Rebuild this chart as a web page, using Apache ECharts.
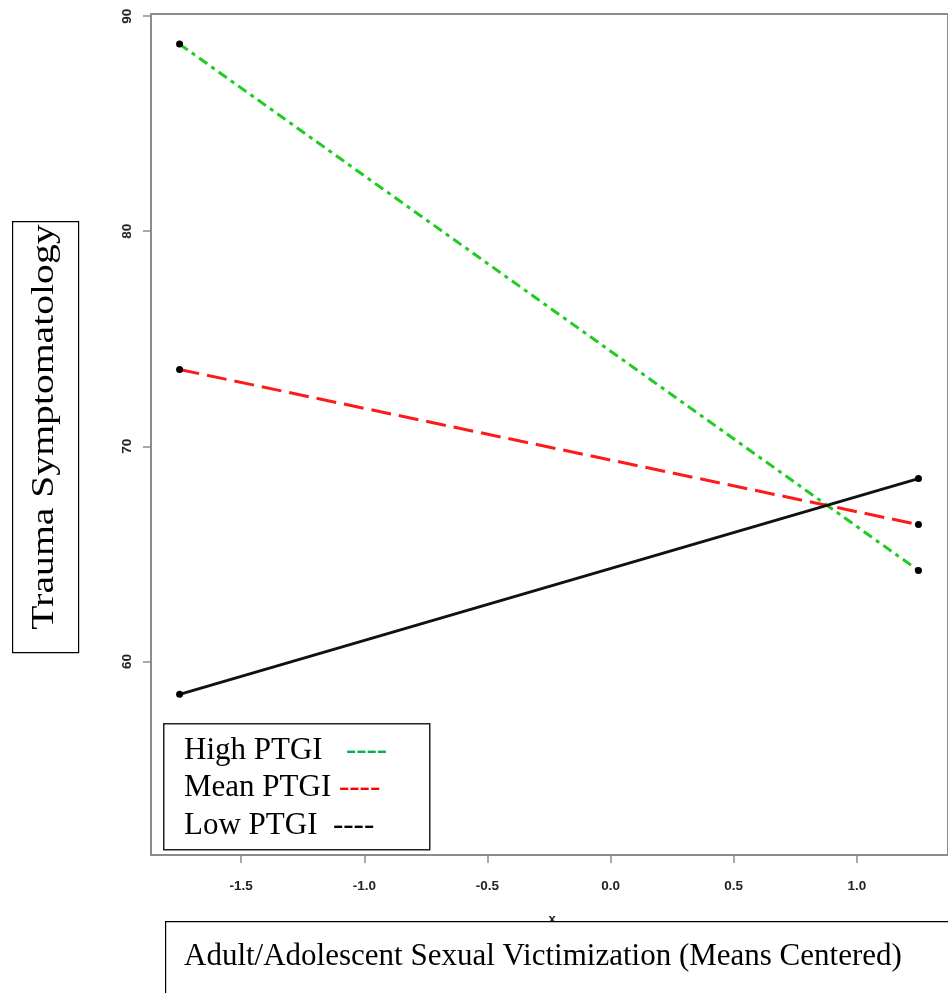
<!DOCTYPE html>
<html>
<head>
<meta charset="utf-8">
<script src="https://cdn.jsdelivr.net/npm/echarts@6/dist/echarts.min.js"></script>
<style>
html,body{margin:0;padding:0;background:#fff;}
#main{width:948px;height:993px;}
</style>
</head>
<body>
<div id="main"></div>
<script>
// ---- data ----
const xValues = [-1.75, 1.25];
const highPTGI = [88.7, 64.23];
const meanPTGI = [73.57, 66.36];
const lowPTGI = [58.47, 68.5];
const xTickValues = [-1.5, -1.0, -0.5, 0.0, 0.5, 1.0];
const xTickLabels = ['-1.5', '-1.0', '-0.5', '0.0', '0.5', '1.0'];
const yTickValues = [60, 70, 80, 90];
const yTickLabels = ['60', '70', '80', '90'];
const seriesNames = ['High PTGI', 'Mean PTGI', 'Low PTGI'];
const yAxisTitle = 'Trauma Symptomatology';
const xAxisTitle = 'Adult/Adolescent Sexual Victimization (Means Centered)';

function pairs(ys){ return xValues.map((x,i)=>[x, ys[i]]); }

const chart = echarts.init(document.getElementById('main'), null, {renderer:'canvas'});
const serif = '"Liberation Serif", "Times New Roman", serif';
const tickFont = {fontFamily:'"Liberation Sans", Arial, sans-serif', fontWeight:'bold', fontSize:13.5, color:'#222'};

function lineSeries(name, ys, color, type){
  return {
    name: name, type:'line', data: pairs(ys),
    symbol:'circle', symbolSize:7, showSymbol:true,
    itemStyle:{color:'#000'},
    lineStyle:{color:color, width:3, type:type},
    emphasis:{disabled:true}, animation:false, silent:true
  };
}

chart.setOption({
  animation:false,
  grid:{left:151, right:-12, top:14, bottom:138, show:true, borderColor:'#8c8c8c', borderWidth:2, backgroundColor:'transparent'},
  xAxis:{
    type:'value', min:-1.866, max:1.37,
    splitLine:{show:false},
    axisLine:{show:false, onZero:false},
    axisTick:{show:true, customValues:xTickValues, length:8, inside:false, lineStyle:{color:'#8c8c8c', width:1.5}},
    axisLabel:{show:true, customValues:xTickValues, margin:24,
      formatter:(v)=>{const i=xTickValues.findIndex(t=>Math.abs(t-v)<1e-9); return i>=0?xTickLabels[i]:'';},
      ...tickFont}
  },
  yAxis:{
    type:'value', min:51, max:90.1,
    splitLine:{show:false},
    axisLine:{show:false, onZero:false},
    axisTick:{show:true, customValues:yTickValues, length:8, inside:false, lineStyle:{color:'#8c8c8c', width:1.5}},
    axisLabel:{show:true, customValues:yTickValues, margin:17, rotate:90,
      formatter:(v)=>{const i=yTickValues.findIndex(t=>Math.abs(t-v)<1e-9); return i>=0?yTickLabels[i]:'';},
      ...tickFont}
  },
  series:[
    lineSeries(seriesNames[0], highPTGI, '#1fcc1f', [10,5,4,5]),
    lineSeries(seriesNames[1], meanPTGI, '#ff1a1a', [20,8]),
    lineSeries(seriesNames[2], lowPTGI, '#111', 'solid')
  ],
  graphic:[
    // y-axis title box
    {type:'rect', left:12, top:221, shape:{width:66, height:431}, style:{fill:'#fff', stroke:'#000', lineWidth:1.2}, z:10},
    {type:'text', x:45, y:427, rotation:Math.PI/2, scaleX:1.28, style:{text:yAxisTitle, font:'31px ' + serif, fill:'#000', align:'center', verticalAlign:'middle'}, z:11},
    // x label "x" partially hidden
    {type:'text', x:552, y:919, style:{text:'x', font:'bold 13px "Liberation Sans", Arial', fill:'#222', align:'center', verticalAlign:'middle'}, z:10},
    // x-axis title box
    {type:'rect', left:165, top:921, shape:{width:800, height:100}, style:{fill:'#fff', stroke:'#000', lineWidth:1.2}, z:12},
    {type:'text', x:184, y:957, style:{text:xAxisTitle, font:'31px ' + serif, fill:'#000', align:'left', verticalAlign:'middle'}, z:13},
    // legend box
    {type:'rect', left:163, top:723, shape:{width:266, height:126}, style:{fill:'#fff', stroke:'#222', lineWidth:1.5}, z:10},
    {type:'text', x:184, y:751, style:{rich:{t:{font:'31px ' + serif, fill:'#000'}, g:{font:'31px ' + serif, fill:'#00b050'}}, text:'{t|' + seriesNames[0] + '   }{g|----}', verticalAlign:'middle'}, z:11},
    {type:'text', x:184, y:788, style:{rich:{t:{font:'31px ' + serif, fill:'#000'}, r:{font:'31px ' + serif, fill:'#ff0000'}}, text:'{t|' + seriesNames[1] + ' }{r|----}', verticalAlign:'middle'}, z:11},
    {type:'text', x:184, y:826, style:{rich:{t:{font:'31px ' + serif, fill:'#000'}, k:{font:'31px ' + serif, fill:'#000'}}, text:'{t|' + seriesNames[2] + '  }{k|----}', verticalAlign:'middle'}, z:11}
  ]
});
</script>
</body>
</html>
